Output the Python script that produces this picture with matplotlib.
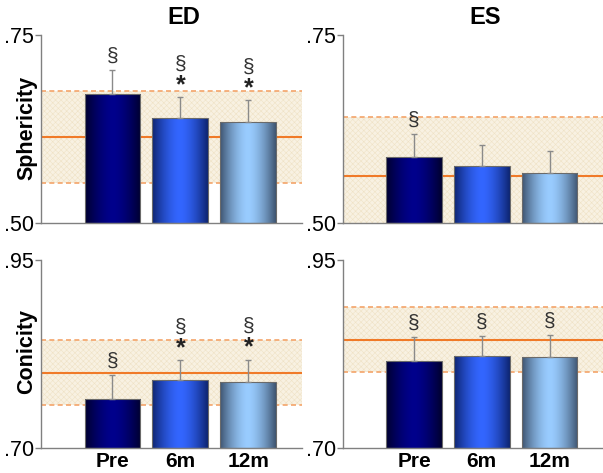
import numpy as np
import matplotlib
matplotlib.use("Agg")
import matplotlib.pyplot as plt
from matplotlib.colors import LinearSegmentedColormap
from matplotlib.patches import Rectangle

plt.rcParams['font.family'] = ['Liberation Sans', 'DejaVu Sans']
plt.rcParams['hatch.linewidth'] = 0.4

groups = ["Pre", "6m", "12m"]
col_titles = ["ED", "ES"]
row_labels = ["Sphericity", "Conicity"]
row_ylims = [(0.50, 0.75), (0.70, 0.95)]
row_ticklabels = [[".50", ".75"], [".70", ".95"]]

sph_ed = [0.6715, 0.6396, 0.6343]
sph_ed_err = [0.032, 0.028, 0.029]
sph_es = [0.5878, 0.5758, 0.5661]
sph_es_err = [0.031, 0.028, 0.030]
con_ed = [0.7656, 0.7904, 0.7878]
con_ed_err = [0.032, 0.027, 0.030]
con_es = [0.8161, 0.8223, 0.8214]
con_es_err = [0.032, 0.027, 0.029]

# reference range: mean, upper, lower
sph_ed_ref = [0.6144, 0.6755, 0.5535]
sph_es_ref = [0.5629, 0.6410, 0.4850]
con_ed_ref = [0.8001, 0.8436, 0.7576]
con_es_ref = [0.8444, 0.8875, 0.8015]

# significance marks per bar, listed bottom to top
sph_ed_marks = [["§"], ["*", "§"], ["*", "§"]]
sph_es_marks = [["§"], [], []]
con_ed_marks = [["§"], ["*", "§"], ["*", "§"]]
con_es_marks = [["§"], ["§"], ["§"]]

panels = [
    [(sph_ed, sph_ed_err, sph_ed_ref, sph_ed_marks), (sph_es, sph_es_err, sph_es_ref, sph_es_marks)],
    [(con_ed, con_ed_err, con_ed_ref, con_ed_marks), (con_es, con_es_err, con_es_ref, con_es_marks)],
]

bar_cmaps = [
    LinearSegmentedColormap.from_list("pre", ["#00002e", "#00008c"]),
    LinearSegmentedColormap.from_list("m6", ["#0d2470", "#3366ff"]),
    LinearSegmentedColormap.from_list("m12", ["#3d5470", "#99ccff"]),
]

fig = plt.figure(figsize=(6.03, 4.73), dpi=100)
W, H = 603, 473
col_x = [(41, 302), (343, 603)]
row_y = [(35, 223), (260, 448.3)]
ylabel_y = [128, 351]

t = np.linspace(0, 1, 256)
grad = 1 - np.abs(2 * t - 1) ** 1.6
grad = grad[np.newaxis, :]

xs = np.arange(len(groups))
bw = 0.82

for r in range(2):
    for c in range(2):
        vals, errs, ref, marks = panels[r][c]
        x0, x1 = col_x[c]
        ytop, ybot = row_y[r]
        ax = fig.add_axes([x0 / W, (H - ybot) / H, (x1 - x0) / W, (ybot - ytop) / H])
        ylo, yhi = row_ylims[r]
        xlim = (-1.05, 2.79)
        # reference band
        ax.axhspan(ref[2], ref[1], facecolor="#f8f1e2", edgecolor="#efe2c6",
                   hatch="xxxxxx", linewidth=0, zorder=0)
        ax.axhline(ref[1], color="#f4a46a", lw=1.2, ls=(0, (3, 2)), zorder=1)
        ax.axhline(ref[2], color="#f4a46a", lw=1.2, ls=(0, (3, 2)), zorder=1)
        ax.axhline(ref[0], color="#f07a28", lw=1.5, zorder=1)
        for i, (x, v, e) in enumerate(zip(xs, vals, errs)):
            rect = Rectangle((x - bw / 2, ylo), bw, v - ylo, facecolor="none",
                             edgecolor="#6a6a6a", lw=0.8, zorder=3)
            ax.add_patch(rect)
            im = ax.imshow(grad, cmap=bar_cmaps[i], aspect="auto",
                           extent=[x - bw / 2, x + bw / 2, ylo, v], zorder=2,
                           vmin=0, vmax=1, interpolation="bilinear")
            im.set_clip_path(rect)
            ax.errorbar([x], [v], yerr=[[0], [e]], fmt="none", ecolor="#8a8a8a",
                        elinewidth=1, capsize=2.5, capthick=1, zorder=4)
            off = 5
            for m in marks[i]:
                if m == "*":
                    ax.annotate(m, (x, v + e), xytext=(0, off - 5), textcoords="offset points",
                                ha="center", va="bottom", fontsize=18, fontweight="bold",
                                color="#222222", zorder=5)
                    off += 14
                else:
                    ax.annotate(m, (x, v + e), xytext=(0, off - 2), textcoords="offset points",
                                ha="center", va="bottom", fontsize=15, color="#333333",
                                zorder=5)
                    off += 14
        ax.set_xlim(*xlim)
        ax.set_ylim(ylo, yhi)
        ax.set_yticks([ylo, yhi])
        ax.set_yticklabels(row_ticklabels[r], fontsize=15.5)
        ax.tick_params(axis="y", length=4, width=1, color="#808080", pad=1)
        if r == 1:
            ax.set_xticks(xs)
            ax.set_xticklabels(groups, fontsize=15, fontweight="bold")
            ax.tick_params(axis="x", length=0, pad=3)
        else:
            ax.set_xticks([])
        for s in ["top", "right"]:
            ax.spines[s].set_visible(False)
        for s in ["left", "bottom"]:
            ax.spines[s].set_color("#808080")
            ax.spines[s].set_linewidth(1)
        ax.patch.set_alpha(0)
        if c == 0:
            fig.text(27 / W, (H - ylabel_y[r]) / H, row_labels[r], rotation=90,
                     ha="center", va="center", fontsize=15.5, fontweight="bold")
        if r == 0:
            ax.text(1.05, 1.03, col_titles[c], transform=ax.get_xaxis_transform(),
                    ha="center", va="bottom", fontsize=17, fontweight="bold")

fig.savefig("out.png", dpi=100)
